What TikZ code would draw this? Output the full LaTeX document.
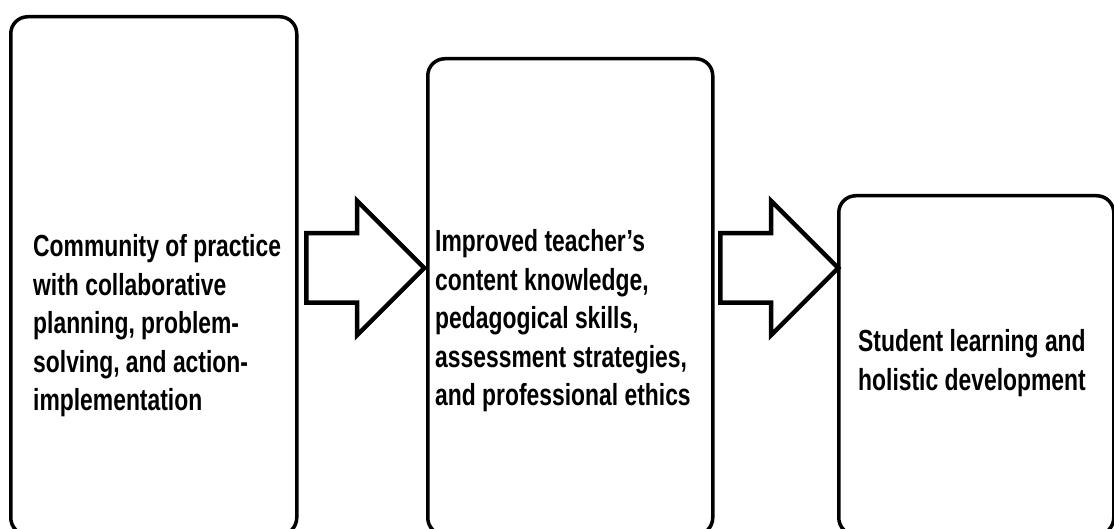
\documentclass[tikz,border=0pt]{standalone}
\usepackage{fontspec}
\setmainfont{Liberation Sans}[FakeStretch=0.75]
\usetikzlibrary{shapes.arrows}

\begin{document}
\begin{tikzpicture}[x=1pt, y=-1pt,
			stage/.style={draw, line width=3.5pt, rounded corners=17pt, anchor=north west, inner sep=0pt},
			blurb/.style={anchor=west, align=left, inner sep=0pt, font=\fontsize{30.5}{38.5}\selectfont\bfseries},
			fat/.style={single arrow, draw, line width=4.5pt, anchor=tail, inner xsep=0pt, inner ysep=32.5pt,
				minimum width=130pt, minimum height=118pt, single arrow head extend=32.5pt}]
			\useasboundingbox (0,0) rectangle (1114,529);
			\clip (0,0) rectangle (1114,529);
			% the three stages
			\node[stage, minimum width=286pt, minimum height=518pt] (comm) at (9,15) {};
			\node[stage, minimum width=285pt, minimum height=476pt] (teach) at (426,57) {};
			\node[stage, minimum width=275pt, minimum height=339pt] (learn) at (837,194) {};
			\node[blurb] (commtxt) at (33,326) {Community of practice\\with collaborative\\planning, problem-\\solving, and action-\\implementation};
			\node[blurb] (teachtxt) at (435,321) {Improved teacher's\\content knowledge,\\pedagogical skills,\\assessment strategies,\\and professional ethics};
			\node[blurb] (learntxt) at (858,363) {Student learning and\\holistic development};
			% block arrows
			\node[fat] (arA) at (304,268) {};
			\node[fat] (arB) at (718,268) {};
		\end{tikzpicture}
\end{document}
